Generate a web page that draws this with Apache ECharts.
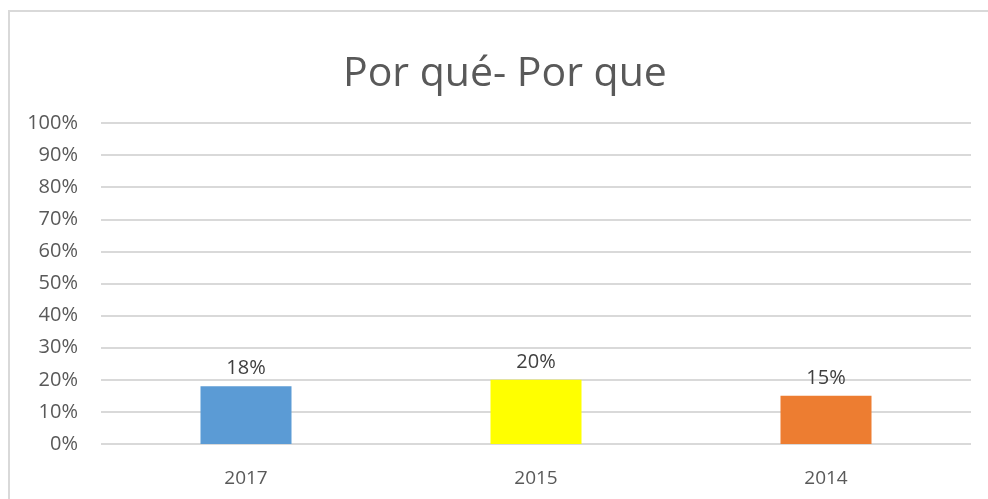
<!DOCTYPE html>
<html>
<head>
<meta charset="utf-8">
<script src="https://cdn.jsdelivr.net/npm/echarts@6/dist/echarts.min.js"></script>
<style>
  html, body { margin: 0; padding: 0; background: #fff; }
  #frame { position: absolute; left: 8px; top: 10px; width: 1000px; height: 520px; border: 2px solid #d9d9d9; box-sizing: border-box; }
  #chart { position: absolute; left: 0; top: 0; width: 988px; height: 499px; }
</style>
</head>
<body>
<div id="frame"></div>
<div id="chart"></div>
<script>
const categories = ['2017', '2015', '2014'];
const values = [18, 20, 15];
const barColors = ['#5b9bd5', '#ffff00', '#ed7d31'];
const yTicks = [0, 10, 20, 30, 40, 50, 60, 70, 80, 90, 100];

const font = '"Open Sans", "Noto Sans", sans-serif';
const chart = echarts.init(document.getElementById('chart'));
chart.setOption({
  animation: false,
  title: {
    text: 'Por qué- Por que',
    left: 338,
    top: 49,
    textStyle: { fontFamily: font, fontSize: 41, fontWeight: 'normal', color: '#595959' }
  },
  grid: { left: 101, right: 17, top: 123, bottom: 55, containLabel: false },
  xAxis: {
    type: 'category',
    data: categories,
    axisLine: { show: false },
    axisTick: { show: false },
    axisLabel: { margin: 25, fontFamily: font, fontSize: 19, color: '#595959' }
  },
  yAxis: {
    type: 'value',
    min: yTicks[0],
    max: yTicks[yTicks.length - 1],
    interval: 10,
    axisLine: { show: false },
    axisTick: { show: false },
    splitLine: { lineStyle: { color: '#d9d9d9', width: 2 } },
    axisLabel: { margin: 23, fontFamily: font, fontSize: 20, color: '#595959', formatter: '{value}%' }
  },
  series: [{
    type: 'bar',
    barWidth: 91,
    data: values.map((v, i) => ({ value: v, itemStyle: { color: barColors[i] } })),
    label: {
      show: true,
      position: 'top',
      distance: 8,
      formatter: '{c}%',
      fontFamily: font,
      fontSize: 20,
      color: '#404040'
    }
  }]
});
</script>
</body>
</html>
